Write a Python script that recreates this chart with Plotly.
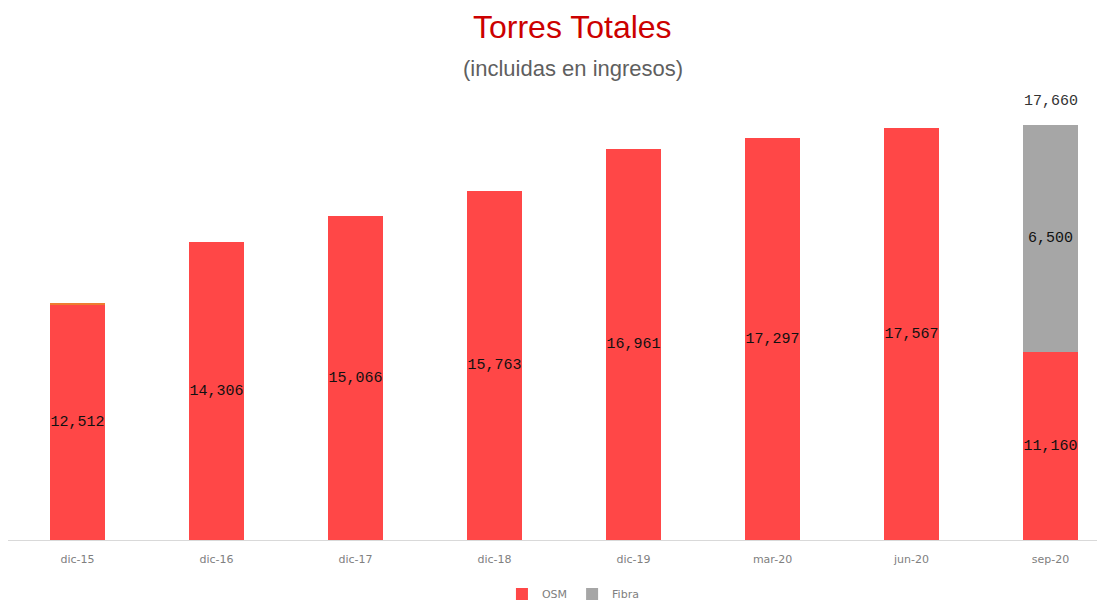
import plotly.graph_objects as go

categories = ["dic-15", "dic-16", "dic-17", "dic-18", "dic-19", "mar-20", "jun-20", "sep-20"]
osm = [12512, 14306, 15066, 15763, 16961, 17297, 17567, 11160]
fibra = [0, 0, 0, 0, 0, 0, 0, 6500]
otros = [60, 0, 0, 0, 0, 0, 0, 0]
totals = [12512, 14306, 15066, 15763, 16961, 17297, 17567, 17660]
total_labels = ["", "", "", "", "", "", "", "17,660"]

Y_MIN, Y_MAX = 5800, 18000

RED = "#FF4747"
GRAY = "#A6A6A6"
label_font = dict(family="Liberation Mono, Courier New, monospace", size=15, color="#111111")

W, H = 1097, 596
T, B, L, R = 105, 64, 0, 0
PLOT_H = H - T - B

fig = go.Figure()
fig.add_trace(go.Bar(x=categories, y=osm, name="OSM",
                     marker=dict(color=RED, line=dict(width=0)), hoverinfo="x+y"))
fig.add_trace(go.Bar(x=categories, y=otros, name="Otros", showlegend=False,
                     marker=dict(color="#ED7D31", line=dict(width=0)), hoverinfo="skip"))
fig.add_trace(go.Bar(x=categories, y=fibra, name="Fibra",
                     marker=dict(color=GRAY, line=dict(width=0)), hoverinfo="x+y"))

# value labels centred in the visible part of each segment
osm_mid = [(Y_MIN + v) / 2 for v in osm]
fig.add_trace(go.Scatter(x=categories, y=osm_mid, mode="text",
                         text=[f"{v:,}" for v in osm], textposition="middle center",
                         textfont=label_font, showlegend=False, hoverinfo="skip", cliponaxis=False))
fib_x = [c for c, f in zip(categories, fibra) if f]
fib_mid = [o + f / 2 for o, f in zip(osm, fibra) if f]
fig.add_trace(go.Scatter(x=fib_x, y=fib_mid, mode="text",
                         text=[f"{f:,}" for f in fibra if f], textposition="middle center",
                         textfont=label_font, showlegend=False, hoverinfo="skip", cliponaxis=False))

annotations = []
for c, t, lab in zip(categories, totals, total_labels):
    if lab:
        annotations.append(dict(x=c, y=t, text=lab, showarrow=False, yshift=23,
                                xref="x", yref="y",
                                font=dict(family="Liberation Mono, Courier New, monospace",
                                          size=15, color="#333333")))

annotations.append(dict(text="Torres Totales", xref="paper", yref="paper", x=0.515,
                        y=1 + (T - 19) / PLOT_H, yanchor="middle", xanchor="center",
                        showarrow=False,
                        font=dict(family="Liberation Sans, Arial", size=32, color="#CC0000")))
annotations.append(dict(text="(incluidas en ingresos)", xref="paper", yref="paper", x=0.515,
                        y=1 + (T - 60) / PLOT_H, yanchor="middle", xanchor="center",
                        showarrow=False,
                        font=dict(family="Liberation Sans, Arial", size=22, color="#5F5F5F")))

fig.update_layout(
    width=W, height=H,
    barmode="stack", bargap=0.6,
    plot_bgcolor="white", paper_bgcolor="white",
    margin=dict(l=L, r=R, t=T, b=B, autoexpand=False),
    xaxis=dict(range=[-0.5, 7.392], showline=True, linecolor="#D9D9D9", linewidth=1,
               ticks="", ticklabelstandoff=9, showgrid=False, automargin=False,
               tickfont=dict(family="DejaVu Sans, Verdana", size=11, color="#808080")),
    yaxis=dict(range=[Y_MIN, Y_MAX], visible=False, showgrid=False, automargin=False),
    legend=dict(orientation="h", x=0.515, xanchor="center", y=-54 / PLOT_H, yanchor="middle",
                font=dict(family="DejaVu Sans, Verdana", size=11, color="#808080"),
                traceorder="normal", itemwidth=30, bgcolor="rgba(0,0,0,0)"),
    annotations=annotations,
)

fig.write_html("out.html")
